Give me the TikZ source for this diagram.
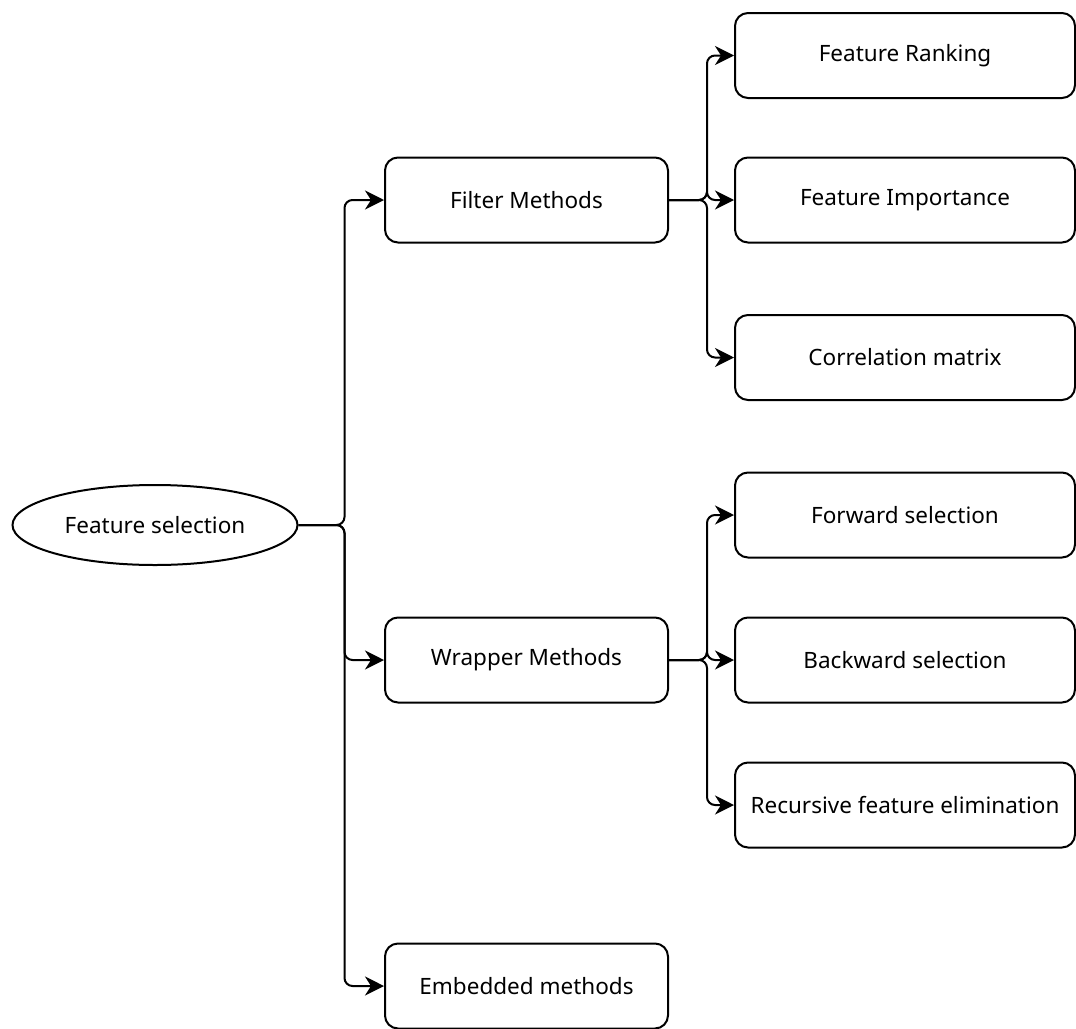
\documentclass[tikz,border=0pt]{standalone}
\usepackage{fontspec}
\setmainfont{Noto Sans}
\usetikzlibrary{shapes.geometric,arrows.meta}
\begin{document}
\begin{tikzpicture}[x=1pt,y=-1pt,
  every node/.style={font=\fontsize{22.5}{26}\selectfont},
  mbox/.style={draw,line width=2pt,rounded corners=13pt,minimum width=283pt,minimum height=85pt,inner sep=0pt},
  leaf/.style={mbox,minimum width=340pt},
  link/.style={line width=2pt,rounded corners=8pt,-{Stealth[length=19pt,width=19pt,inset=6pt]}}]
  \useasboundingbox (0,0) rectangle (1076,1028);
  % root
  \node[draw,ellipse,line width=2pt,minimum width=285pt,minimum height=80pt,inner sep=0pt] (fs) at (155,525) {Feature selection};
  % methods
  \node[mbox] (filt) at (526.5,200) {Filter Methods};
  \node[mbox] (wrap) at (526.5,660) {Wrapper Methods};
  \node[mbox] (emb) at (526.5,986) {Embedded methods};
  % leaves
  \node[leaf] (rank) at (905,55.5) {Feature Ranking};
  \node[leaf] (imp) at (905,200) {Feature Importance};
  \node[leaf] (corr) at (905,357.5) {Correlation matrix};
  \node[leaf] (fwd) at (905,515) {Forward selection};
  \node[leaf] (bwd) at (905,660) {Backward selection};
  \node[leaf] (rfe) at (905,805) {Recursive feature elimination};
  % connectors
  \foreach \t in {filt,wrap,emb}
    \draw[link] (fs.east) -- ++(46,0) |- (\t.west);
  \foreach \t in {rank,imp,corr}
    \draw[link] (filt.east) -- ++(38,0) |- (\t.west);
  \foreach \t in {fwd,bwd,rfe}
    \draw[link] (wrap.east) -- ++(38,0) |- (\t.west);
\end{tikzpicture}
\end{document}
